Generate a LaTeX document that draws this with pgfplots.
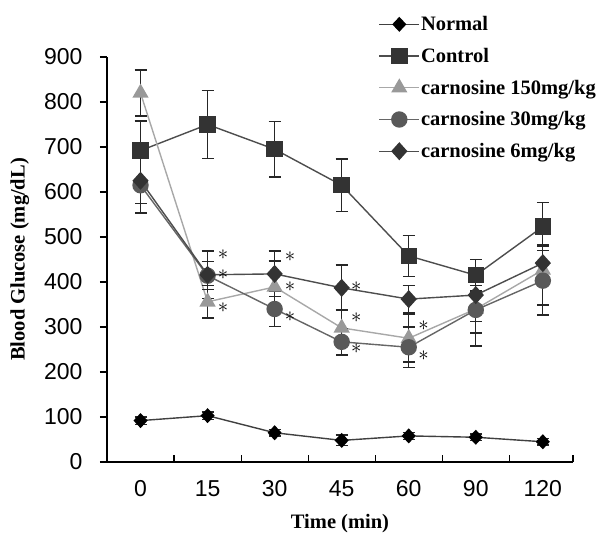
\documentclass[border=0pt]{standalone}
\usepackage{fontspec}
\setmainfont{Liberation Serif}
\newfontfamily\arialfont{Liberation Sans}
\usepackage{pgfplots}
\pgfplotsset{compat=1.18}

\definecolor{ctrl}{HTML}{333333}
\definecolor{ctrlline}{HTML}{4D4D4D}
\definecolor{hi}{HTML}{999999}
\definecolor{hiline}{HTML}{A8A8A8}
\definecolor{mid}{HTML}{595959}
\definecolor{midline}{HTML}{666666}
\tikzset{sig/.style={font=\fontsize{20}{20}\selectfont, inner sep=0pt}}

\begin{document}
\begin{tikzpicture}
\begin{axis}[
    name=ax,
    scale only axis,
    width=466pt, height=405pt,
    xmin=-0.5, xmax=6.45, ymin=0, ymax=900,
    axis x line=bottom, axis y line=left,
    axis line style={-, line width=1.2pt, black},
    xtick={0,...,6}, xticklabels={0,15,30,45,60,90,120},
    x tick style={draw=none},
    ytick={0,100,...,900},
    tick align=outside, major tick length=7pt,
    y tick style={line width=1.2pt, black},
    ticklabel style={font=\arialfont\fontsize{23}{23}\selectfont},
    /pgf/number format/assume math mode=true,
    xticklabel style={yshift=-8pt},
    yticklabel style={xshift=-14pt},
    xlabel={Time (min)}, ylabel={Blood Glucose (mg/dL)},
    label style={font=\bfseries\fontsize{20.5}{22}\selectfont},
    xlabel style={at={(axis description cs:0.5,-0.151)}, anchor=center},
    ylabel style={at={(axis description cs:-0.187,0.5)}, anchor=center},
    clip=false,
    legend style={draw=none, fill=none, at={(1.058,1.108)}, anchor=north east,
        font=\bfseries\fontsize{20.5}{22}\selectfont, row sep=14pt,
        nodes={inner sep=1pt}, legend cell align=left},
    legend image code/.code={\draw[mark repeat=2,mark phase=2] plot coordinates {(0pt,0pt) (20pt,0pt) (40pt,0pt)};},
    every axis plot/.append style={line width=1.4pt},
    error bars/error bar style={line width=1.3pt, black!85},
    error bars/error mark options={rotate=90, mark size=6pt, line width=1.3pt, black!85},
]
% Normal
\addplot[color=black!75, mark=diamond*, mark size=6.5pt, mark options={fill=black, draw=black, xscale=1.25},
    error bars/.cd, y dir=both, y explicit] coordinates {
    (0,92) +- (0,8) (1,103) +- (0,8) (2,65) +- (0,7) (3,48) +- (0,12)
    (4,58) +- (0,8) (5,55) +- (0,7) (6,45) +- (0,7)};
\addlegendentry{Normal}
% Control
\addplot[color=ctrlline, mark=square*, mark size=7.5pt, mark options={fill=ctrl, draw=ctrl},
    error bars/.cd, y dir=both, y explicit] coordinates {
    (0,692) +- (0,66) (1,750) +- (0,75) (2,695) +- (0,62) (3,615) +- (0,58)
    (4,458) +- (0,46) (5,415) +- (0,35) (6,523) +- (0,53)};
\addlegendentry{Control}
% carnosine 150
\addplot[color=hiline, mark=triangle*, mark size=8pt, mark options={fill=hi, draw=hi},
    error bars/.cd, y dir=both, y explicit] coordinates {
    (0,820) +- (0,51) (1,356) +- (0,36) (2,389) +- (0,58) (3,298) +- (0,40)
    (4,275) +- (0,53) (5,340) +- (0,53) (6,427) +- (0,78)};
\addlegendentry{carnosine 150mg/kg}
% carnosine 30
\addplot[color=midline, mark=*, mark size=7.5pt, mark options={fill=mid, draw=mid},
    error bars/.cd, y dir=both, y explicit] coordinates {
    (0,615) +- (0,62) (1,414) +- (0,31) (2,340) +- (0,39) (3,267) +- (0,29)
    (4,255) +- (0,45) (5,338) +- (0,80) (6,403) +- (0,76)};
\addlegendentry{carnosine 30mg/kg}
% carnosine 6
\addplot[color=ctrlline, mark=diamond*, mark size=8pt, mark options={fill=ctrl, draw=ctrl, xscale=1.2},
    error bars/.cd, y dir=both, y explicit] coordinates {
    (0,625) +- (0,50) (1,416) +- (0,53) (2,418) +- (0,51) (3,387) +- (0,51)
    (4,362) +- (0,31) (5,371) +- (0,59) (6,442) +- (0,40)};
\addlegendentry{carnosine 6mg/kg}

% x tick marks between categories, pointing up
\pgfplotsinvokeforeach{0.5,1.5,2.5,3.5,4.5,5.5}{
    \draw[line width=1.2pt, black] (axis cs:#1,0) -- ++(0pt,7pt);
}
\draw[line width=1.2pt, black] (rel axis cs:1,0) -- ++(0pt,7pt);

% significance marks
\node[sig] at (axis cs:1.23,460) {$\ast$};
\node[sig] at (axis cs:1.23,416) {$\ast$};
\node[sig] at (axis cs:1.23,344) {$\ast$};
\node[sig] at (axis cs:2.23,456) {$\ast$};
\node[sig] at (axis cs:2.23,390) {$\ast$};
\node[sig] at (axis cs:2.23,322) {$\ast$};
\node[sig] at (axis cs:3.22,389) {$\ast$};
\node[sig] at (axis cs:3.22,320) {$\ast$};
\node[sig] at (axis cs:3.22,251) {$\ast$};
\node[sig] at (axis cs:4.22,302) {$\ast$};
\node[sig] at (axis cs:4.22,236) {$\ast$};
\end{axis}
\path (ax.south west) ++(-107pt,-73pt) coordinate (bl);
\path (ax.north east) ++(33pt,57pt) coordinate (tr);
\pgfresetboundingbox
\path[use as bounding box] (bl) rectangle (tr);
\end{tikzpicture}
\end{document}
